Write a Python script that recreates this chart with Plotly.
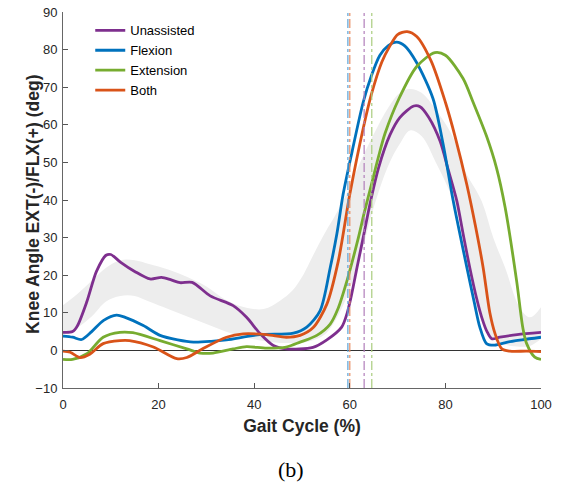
import plotly.graph_objects as go

# gait cycle samples (%) and knee angle (deg)
unassisted_x = [0, 2, 3, 5, 7, 9, 10, 12, 15, 18.2, 20.6, 22.5, 24.5, 27, 30.8, 35.6, 38.4, 41.2, 44, 46.7,
                52.3, 55.2, 58.3, 59.4, 60.4, 61.5, 62.8, 64.4, 66, 68.4, 70.5, 73.4, 74.7, 76.5, 78.9, 80.6,
                82.4, 83.7, 85.1, 86.5, 87.6, 88.7, 89.7, 91.4, 95, 100]
unassisted_y = [4.8, 5, 6.5, 13, 21, 25.3, 25.5, 23.5, 21, 19, 19.4, 18.8, 18, 18.1, 14.5, 11.9, 8.8, 4.5, 1.3, 0.4,
                0.8, 2.8, 6.2, 9.7, 15, 22, 30, 40, 48.5, 57.3, 62, 65, 64.8, 62, 55.6, 48,
                39.7, 31, 22, 14, 8.8, 5, 3.1, 3.5, 4.2, 4.8]

flexion_x = [0, 2, 3.9, 6, 8.5, 11.2, 13, 16.8, 20.3, 24, 27.3, 31, 34.2, 41.2, 48.2, 51, 53.8, 55.9, 57.3,
             58.6, 60.5, 62.8, 64.5, 66.3, 68, 69.8, 71.5, 74, 77.4, 79.5, 81.6, 84.5, 86, 87.2, 88.6, 90.3,
             93, 96, 100]
flexion_y = [3.8, 3.5, 2.9, 5, 8, 9.4, 8.8, 6.6, 4, 2.8, 2.2, 2.4, 2.8, 4.2, 4.6, 6.2, 10.6, 22, 31,
             41.5, 53, 66, 73, 78.5, 81, 82, 81, 76.5, 67, 55, 40, 22, 13, 6.2, 1.8, 1.4,
             2.2, 2.8, 3.5]

extension_x = [0, 2, 5, 8.4, 11.9, 14.6, 20.3, 25.9, 28.7, 31.4, 35.6, 38.4, 42.6, 46.7, 49.6, 53.1, 55.9,
               57.5, 59.4, 61.8, 63, 64.4, 66, 67.4, 70.3, 74, 77.8, 80, 83.7, 85.8, 88.6, 90.7, 92.5,
               94.9, 96.2, 97, 98.7, 100]
extension_y = [-2.4, -2.4, -0.9, 3.5, 4.8, 4.7, 2.6, 0.4, -0.7, -0.7, 0.4, 1, 0.6, 0.9, 2.2, 4, 7,
               11, 18.5, 30, 36.5, 43.5, 51.5, 57.8, 67, 75.5, 79.2, 78.5, 72.3, 66, 57, 48.5, 38,
               18.5, 6, 1.8, -1.8, -2.4]

both_x = [0, 1.5, 3.6, 5.6, 8.4, 11.9, 13.9, 18.9, 23.8, 25.9, 29.3, 34.2, 37.7, 42.6, 46.7, 49.6, 52.3,
          55.2, 57.6, 60, 62.8, 64.5, 66.7, 68.4, 70, 72, 74, 77, 80, 82, 84.5, 86.3, 87.9, 89.3, 90.4,
          91.8, 93.5, 97, 100]
both_y = [-0.2, -0.5, -1.9, -1, 1.8, 2.6, 2.6, 0.9, -2.2, -1.9, 0.5, 3.5, 4.4, 4.2, 3.5, 4, 6,
          12.3, 23.8, 41.5, 59, 68, 76.7, 81, 84, 84.8, 83.5, 77, 66, 57, 44, 33, 22, 10, 4.4,
          0.4, -0.2, -0.2, -0.3]

# normal gait band (mean +/- SD)
band_x = [0, 3, 6, 9, 12, 15, 18, 22, 26, 30, 34, 38, 42, 45.4, 48, 50, 53, 55, 57, 59.3, 62, 65, 68,
          70.5, 72.6, 75, 78, 81.3, 84, 87.6, 90, 92.5, 95.5, 97.7, 100]
band_upper = [12, 15, 18.5, 22, 24, 24, 23, 21.5, 19.5, 17, 13.5, 11.5, 11, 13.2, 15.9, 19.5, 27, 31.7, 36,
              41.5, 49.5, 57.5, 64.5, 68.5, 69.5, 68.5, 64, 57.4, 48, 39.7, 30, 22, 11.5, 8.8, 11.5]
band_lower = [4, 6, 9, 13, 14.5, 14.5, 13, 11, 9, 7, 5, 3.5, 2.5, 2, 2, 2, 3, 4.5, 8, 14, 24, 38, 49,
              55, 58.5, 57, 50, 41, 30, 8, 3, 1.5, 1, 1.2, 3]

# toe-off markers (%)
toe_off = {"Unassisted": 63.0, "Flexion": 59.6, "Extension": 64.6, "Both": 60.0}

colors = {"Unassisted": "#7E2F8E", "Flexion": "#0072BD", "Extension": "#77AC30", "Both": "#D95319"}
light = {"Unassisted": "#B17EBB", "Flexion": "#5AA3D8", "Extension": "#A9CC7E", "Both": "#E98D62"}

series = {
    "Unassisted": (unassisted_x, unassisted_y),
    "Flexion": (flexion_x, flexion_y),
    "Extension": (extension_x, extension_y),
    "Both": (both_x, both_y),
}

fig = go.Figure()

fig.add_trace(go.Scatter(x=band_x, y=band_lower, mode="lines", line=dict(width=0, shape="spline"),
                         showlegend=False, hoverinfo="skip"))
fig.add_trace(go.Scatter(x=band_x, y=band_upper, mode="lines", line=dict(width=0, shape="spline"),
                         fill="tonexty", fillcolor="#EDEDED", showlegend=False, hoverinfo="skip"))

for name, (xs, ys) in series.items():
    fig.add_trace(go.Scatter(x=xs, y=ys, mode="lines", name=name,
                             line=dict(color=colors[name], width=2.8, shape="spline", smoothing=0.8)))

for name, v in toe_off.items():
    fig.add_trace(go.Scatter(x=[v, v], y=[-10, 90], mode="lines", showlegend=False, hoverinfo="skip",
                             line=dict(color=light[name], width=1.2, dash="dashdot")))

axis_font = dict(family="Liberation Sans, Arial", size=13, color="#262626")
title_font = dict(family="Liberation Sans, Arial", size=17.5, color="#262626")

fig.update_xaxes(
    range=[0, 100], tickvals=[0, 20, 40, 60, 80, 100], ticks="inside", ticklen=5, tickcolor="#555",
    showline=True, linecolor="#666", linewidth=1, showgrid=False, zeroline=False,
    tickfont=axis_font, ticklabelstandoff=4, automargin=False,
    title=dict(text="<b>Gait Cycle (%)</b>", font=title_font, standoff=9),
)
fig.update_yaxes(
    range=[-10, 90], tickvals=list(range(-10, 91, 10)), ticks="inside", ticklen=5, tickcolor="#555",
    showline=True, linecolor="#666", linewidth=1, showgrid=False,
    zeroline=True, zerolinecolor="#333", zerolinewidth=1,
    tickfont=axis_font, ticklabelstandoff=2, automargin=False,
)

fig.update_layout(
    width=564, height=484,
    margin=dict(l=63, r=23, t=12, b=96),
    plot_bgcolor="white", paper_bgcolor="white",
    legend=dict(x=0.057, y=0.991, xanchor="left", yanchor="top", bgcolor="rgba(0,0,0,0)",
                traceorder="normal",
                font=dict(family="Liberation Sans, Arial", size=13, color="#000")),
    annotations=[
        dict(text="<b>Knee Angle EXT(-)/FLX(+) (deg)</b>", textangle=-90, x=(33 - 63) / 478, y=0.487,
             xref="paper", yref="paper", showarrow=False, xanchor="center", yanchor="middle",
             font=title_font),
        dict(text="(b)", x=(291 - 63) / 478, y=(388 - 469) / 376, xref="paper", yref="paper",
             showarrow=False, xanchor="center", yanchor="middle",
             font=dict(family="Liberation Serif, Times New Roman", size=22, color="#000")),
    ],
)

fig.write_html("out.html", config={"displayModeBar": False},
               post_script="document.body.style.margin='0';")
